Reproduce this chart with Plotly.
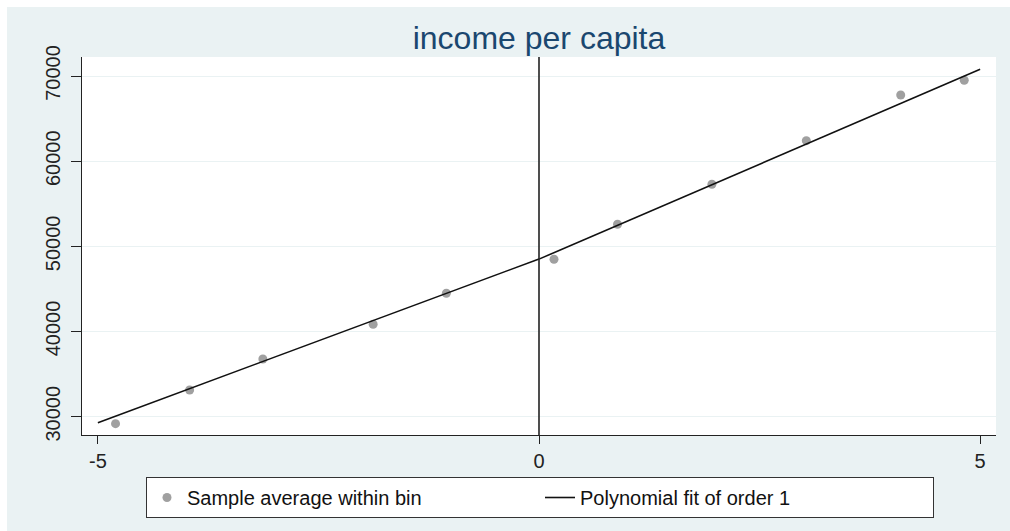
import plotly.graph_objects as go

# ---- data ----
bin_x = [-4.80, -3.96, -3.13, -1.88, -1.05, 0.17, 0.89, 1.96, 3.03, 4.10, 4.82]
bin_y = [29180, 33135, 36775, 40850, 44490, 48480, 52590, 57285, 62405, 67770, 69495]

fit_left_x = [-5.0, 0.0]
fit_left_y = [29296, 48515]
fit_right_x = [0.0, 5.0]
fit_right_y = [48500, 70786]

x_ticks = [-5, 0, 5]
y_ticks = [30000, 40000, 50000, 60000, 70000]
title_text = "income per capita"
legend_names = ["Sample average within bin", "Polynomial fit of order 1"]

# ---- styling ----
BG = "#EAF2F3"
NAVY = "#1A476F"
FONT = "Liberation Sans, Arial, sans-serif"
W, H = 1010, 531
ML, MR, MT, MB = 82, 14, 57, 96
PW, PH = W - ML - MR, H - MT - MB


def px_to_paper_x(px):
    return (px - ML) / PW


def px_to_paper_y(py):
    return (H - MB - py) / PH


fig = go.Figure()

fig.add_trace(go.Scatter(
    x=bin_x, y=bin_y, mode="markers", name=legend_names[0],
    marker=dict(color="#A0A0A0", size=9, line=dict(width=0)),
))

fig.add_trace(go.Scatter(
    x=fit_left_x + [None] + fit_right_x,
    y=fit_left_y + [None] + fit_right_y,
    mode="lines", name=legend_names[1], connectgaps=False,
    line=dict(color="#111111", width=1.6),
))

# vertical cut-off line at 0
fig.add_shape(type="line", xref="x", yref="paper", x0=0, x1=0, y0=0, y1=1,
              line=dict(color="#222222", width=1.6), layer="above")

# thin white border at top and left of the picture
fig.add_shape(type="rect", xref="paper", yref="paper",
              x0=px_to_paper_x(0), x1=px_to_paper_x(W),
              y0=px_to_paper_y(7), y1=px_to_paper_y(0),
              fillcolor="white", line=dict(width=0), layer="below")
fig.add_shape(type="rect", xref="paper", yref="paper",
              x0=px_to_paper_x(0), x1=px_to_paper_x(7),
              y0=px_to_paper_y(H), y1=px_to_paper_y(0),
              fillcolor="white", line=dict(width=0), layer="below")

fig.update_layout(
    width=W, height=H,
    margin=dict(l=ML, r=MR, t=MT, b=MB, pad=0),
    paper_bgcolor=BG, plot_bgcolor="white",
    font=dict(family=FONT, color="#222222"),
    title=dict(text=title_text, x=0.5, xref="paper", xanchor="center",
               y=1 - 38 / H, yanchor="middle",
               font=dict(family=FONT, size=32, color=NAVY)),
    showlegend=True,
    legend=dict(
        orientation="h", x=px_to_paper_x(146), y=px_to_paper_y(477),
        xanchor="left", yanchor="top",
        bgcolor="white", bordercolor="#333333", borderwidth=1,
        font=dict(family=FONT, size=20, color="#111111"),
        entrywidth=348, entrywidthmode="pixels",
    ),
)

fig.update_xaxes(
    range=[-5.18, 5.18], tickvals=x_ticks, ticktext=[str(v) for v in x_ticks],
    showgrid=False, zeroline=False,
    showline=True, linecolor="#222222", linewidth=1.2,
    ticks="outside", ticklen=8, tickwidth=1.2, tickcolor="#222222",
    tickfont=dict(family=FONT, size=20, color="#222222"),
)
fig.update_yaxes(
    range=[27851, 72231], tickvals=y_ticks, ticktext=[str(v) for v in y_ticks],
    showgrid=True, gridcolor=BG, gridwidth=1.2, zeroline=False,
    showline=True, linecolor="#222222", linewidth=1.2,
    ticks="outside", ticklen=10, tickwidth=1.2, tickcolor="#222222",
    tickangle=-90, ticklabelstandoff=3,
    tickfont=dict(family=FONT, size=20, color="#222222"),
)

fig.write_html("out.html")
